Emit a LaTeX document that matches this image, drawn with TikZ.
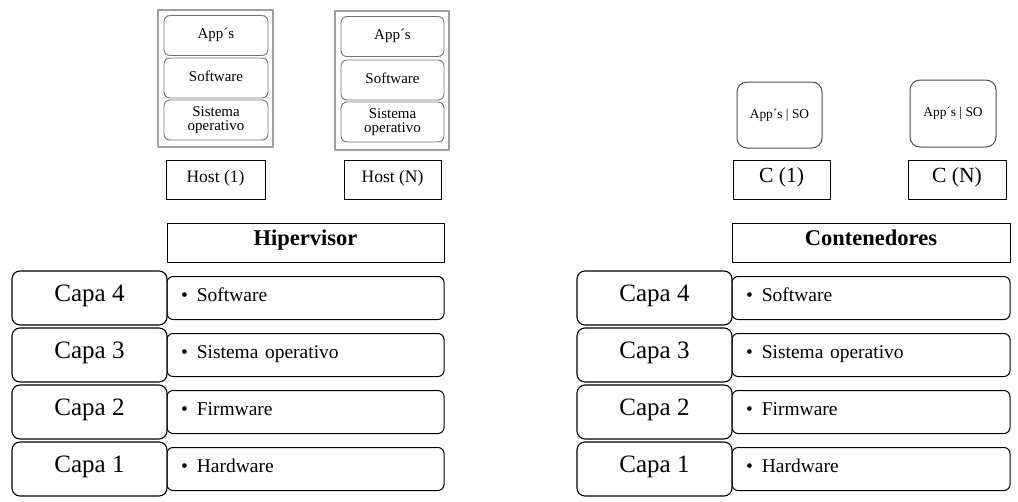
\documentclass[tikz,border=0pt]{standalone}
\usepackage{fontspec}
\setmainfont{Liberation Serif}
\usepackage{tikz}

\begin{document}
\begin{tikzpicture}[x=1pt,y=-1pt,line join=round,
  oneline/.style={text height=0.7em,text depth=0.05em},
  hostframe/.style={draw=gray!75,line width=1.2pt,inner sep=0pt},
  layer/.style={draw=black!55,line width=0.9pt,rounded corners=6pt,fill=white,
    minimum width=104pt,minimum height=40pt,inner sep=0pt,align=center,
    font=\fontsize{15}{14}\selectfont},
  hostlabel/.style={draw,line width=1pt,minimum width=98pt,minimum height=39pt,
    inner sep=0pt,oneline,font=\fontsize{17.5}{18}\selectfont},
  cbox/.style={draw=black!70,line width=1pt,rounded corners=10pt,fill=white,
    minimum width=85pt,minimum height=66pt,inner sep=0pt,oneline,
    font=\fontsize{13.4}{14}\selectfont},
  clabel/.style={draw,line width=1pt,minimum width=97pt,minimum height=39pt,
    inner sep=0pt,oneline,font=\fontsize{21.6}{22}\selectfont},
  titlebox/.style={draw,line width=1pt,minimum height=39pt,inner sep=0pt,
    oneline,font=\fontsize{22.5}{23}\selectfont\bfseries},
  capabox/.style={draw,line width=1.1pt,rounded corners=8pt,fill=white,
    minimum width=155pt,minimum height=54pt,inner sep=0pt,oneline,
    font=\fontsize{25}{25}\selectfont},
  itembox/.style={draw,line width=1pt,rounded corners=6pt,fill=white,
    minimum height=43pt,inner xsep=14pt,inner ysep=0pt,align=left,oneline,
    font=\fontsize{19.5}{20}\selectfont}]
  \useasboundingbox (0,0) rectangle (1018,501);
  % hosts (hipervisor)
  \node[hostframe,minimum width=115pt,minimum height=137pt] (H1) at (215.5,78.5) {};
  \node[hostframe,minimum width=114pt,minimum height=139pt] (HN) at (392,80.5) {};
  \node[layer,oneline] (H1app) at (216,35.5) {App´s};
  \node[layer,oneline] (H1sw) at (216,78) {Software};
  \node[layer] (H1so) at (216,120) {Sistema\\operativo};
  \node[layer,oneline,minimum width=103pt] (HNapp) at (392.5,36.5) {App´s};
  \node[layer,oneline,minimum width=103pt] (HNsw) at (392.5,80) {Software};
  \node[layer,minimum width=103pt] (HNso) at (392.5,122) {Sistema\\operativo};
  \node[hostlabel,minimum width=99pt] (H1lbl) at (215.5,179.5) {Host (1)};
  \node[hostlabel,minimum width=97pt] (HNlbl) at (392.5,179.5) {Host (N)};
  % contenedores
  \node[cbox] (C1) at (779.5,115) {App´s | SO};
  \node[cbox,minimum width=86pt,minimum height=67pt] (CN) at (953,113.5) {App´s | SO};
  \node[clabel] (C1lbl) at (781.5,179.5) {C (1)};
  \node[clabel,minimum width=98pt] (CNlbl) at (957,179.5) {C (N)};
  % titulos
  \node[titlebox,minimum width=277pt] (hip) at (305.5,242.5) {Hipervisor};
  \node[titlebox,minimum width=278pt] (cont) at (871,242.5) {Contenedores};
  % capas izquierda
  \node[itembox,text width=249pt] (L4) at (305.5,298) {\textbullet\hspace{9pt}Software};
  \node[itembox,text width=249pt] (L3) at (305.5,355) {\textbullet\hspace{9pt}Sistema operativo};
  \node[itembox,text width=249pt] (L2) at (305.5,412) {\textbullet\hspace{9pt}Firmware};
  \node[itembox,text width=249pt] (L1) at (305.5,469) {\textbullet\hspace{9pt}Hardware};
  \node[capabox] (CL4) at (89.5,298) {Capa 4};
  \node[capabox] (CL3) at (89.5,355) {Capa 3};
  \node[capabox] (CL2) at (89.5,412) {Capa 2};
  \node[capabox] (CL1) at (89.5,469) {Capa 1};
  % capas derecha
  \node[itembox,text width=250pt] (R4) at (871,298) {\textbullet\hspace{9pt}Software};
  \node[itembox,text width=250pt] (R3) at (871,355) {\textbullet\hspace{9pt}Sistema operativo};
  \node[itembox,text width=250pt] (R2) at (871,412) {\textbullet\hspace{9pt}Firmware};
  \node[itembox,text width=250pt] (R1) at (871,469) {\textbullet\hspace{9pt}Hardware};
  \node[capabox] (CR4) at (654.5,298) {Capa 4};
  \node[capabox] (CR3) at (654.5,355) {Capa 3};
  \node[capabox] (CR2) at (654.5,412) {Capa 2};
  \node[capabox] (CR1) at (654.5,469) {Capa 1};
\end{tikzpicture}
\end{document}
